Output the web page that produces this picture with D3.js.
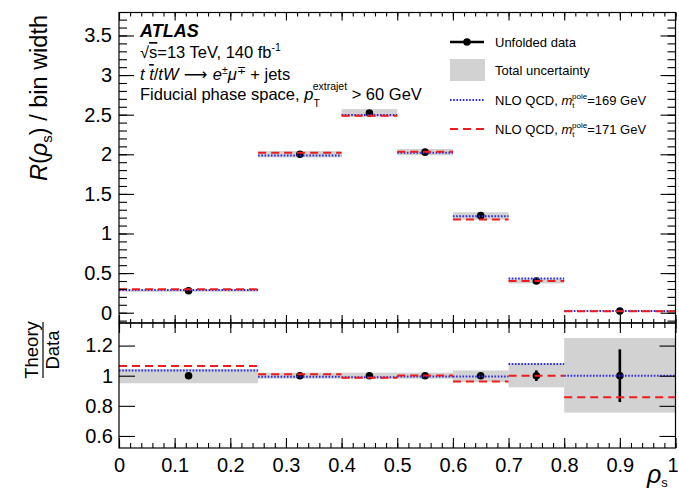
<!DOCTYPE html>
<html>
<head>
<meta charset="utf-8">
<script src="https://cdn.jsdelivr.net/npm/d3@7"></script>
<style>
  body { margin: 0; background: #fff; }
  svg text { font-family: "Liberation Sans", Arial, Helvetica, sans-serif; fill: #000; }
</style>
</head>
<body>
<svg id="chart" width="679" height="490"></svg>
<script>
// bins in rho_s
const binEdges = [0, 0.25, 0.4, 0.5, 0.6, 0.7, 0.8, 1.0];
const binCenters = [0.125, 0.325, 0.45, 0.55, 0.65, 0.75, 0.9];

// unfolded data, R(rho_s) / bin width
const dataValues = [0.278, 2.00, 2.52, 2.027, 1.225, 0.400, 0.020];
// relative uncertainties
const statRel = [0.01, 0.005, 0.005, 0.005, 0.01, 0.035, 0.175];
const totRelUp = [0.045, 0.02, 0.02, 0.02, 0.035, 0.08, 0.25];
const totRelDown = [0.05, 0.02, 0.02, 0.02, 0.042, 0.077, 0.245];

// NLO QCD predictions (upper panel)
const nlo169 = [0.288, 1.986, 2.495, 2.018, 1.219, 0.431, 0.020];
const nlo171 = [0.296, 2.018, 2.485, 2.031, 1.178, 0.400, 0.017];

// Theory / Data (lower panel)
const ratio169 = [1.034, 0.993, 0.990, 0.995, 0.995, 1.077, 1.0];
const ratio171 = [1.064, 1.009, 0.986, 1.002, 0.962, 1.0, 0.857];

// tick labels
const xTicks = [0, 0.1, 0.2, 0.3, 0.4, 0.5, 0.6, 0.7, 0.8, 0.9, 1];
const yTicksTop = [0, 0.5, 1, 1.5, 2, 2.5, 3, 3.5];
const yTicksBottom = [0.6, 0.8, 1, 1.2];

const svg = d3.select("#chart");
const bins = binCenters.map((c, i) => ({ lo: binEdges[i], hi: binEdges[i + 1], c, i }));

const left = 119, right = 675.5;
const x = d3.scaleLinear().domain([0, 1]).range([left, right]);
const yTop = d3.scaleLinear().domain([-0.13, 3.79]).range([323, 12.5]);
const yBot = d3.scaleLinear().domain([0.52, 1.35]).range([448, 323]);

const BLUE = "#2b2bea", RED = "#ee1c1c", BAND = "#d2d2d2";
const xMinor = d3.range(0, 1.0001, 0.02);

function drawPanel(g, y, vals, up, down, errs, th1, th2) {
  // uncertainty band
  g.selectAll("rect.band").data(bins).join("rect")
    .attr("x", d => x(d.lo)).attr("width", d => x(d.hi) - x(d.lo))
    .attr("y", d => y(vals[d.i] * (1 + up[d.i])))
    .attr("height", d => y(vals[d.i] * (1 - down[d.i])) - y(vals[d.i] * (1 + up[d.i])))
    .attr("fill", BAND);
  // data error bars and points
  g.selectAll("line.err").data(bins).join("line")
    .attr("x1", d => x(d.c)).attr("x2", d => x(d.c))
    .attr("y1", d => y(vals[d.i] * (1 + errs[d.i])))
    .attr("y2", d => y(vals[d.i] * (1 - errs[d.i])))
    .attr("stroke", "#000").attr("stroke-width", 2.6);
  g.selectAll("circle.pt").data(bins).join("circle")
    .attr("cx", d => x(d.c)).attr("cy", d => y(vals[d.i]))
    .attr("r", 3.8).attr("fill", "#000");
  // theory lines
  g.selectAll("line.t169").data(bins).join("line")
    .attr("x1", d => x(d.lo)).attr("x2", d => x(d.hi))
    .attr("y1", d => y(th1[d.i])).attr("y2", d => y(th1[d.i]))
    .attr("stroke", BLUE).attr("stroke-width", 2).attr("stroke-dasharray", "1.6,1.6");
  g.selectAll("line.t171").data(bins).join("line")
    .attr("x1", d => x(d.lo)).attr("x2", d => x(d.hi))
    .attr("y1", d => y(th2[d.i])).attr("y2", d => y(th2[d.i]))
    .attr("stroke", RED).attr("stroke-width", 2).attr("stroke-dasharray", "8,5");
}

// upper panel
const gTop = svg.append("g");
drawPanel(gTop.append("g"), yTop, dataValues, totRelUp, totRelDown, statRel, nlo169, nlo171);

// lower panel, data normalised to 1
const ones = dataValues.map(() => 1);
const gBot = svg.append("g");
drawPanel(gBot.append("g"), yBot, ones, totRelUp, totRelDown, statRel, ratio169, ratio171);

// axes helper
function ticks(axis, pos, vals, size, fmt) {
  const a = svg.append("g").attr("transform", pos)
    .call(axis.tickValues(vals).tickSize(-size).tickSizeOuter(0).tickPadding(6)
      .tickFormat(fmt || ""));
  a.select(".domain").remove();
  a.selectAll("line").attr("stroke", "#000").attr("stroke-width", 1.1);
  a.selectAll("text").attr("font-size", 20).attr("font-family", null);
  return a;
}

// upper panel axes
ticks(d3.axisLeft(yTop), `translate(${left},0)`, yTicksTop, 15, d => d).selectAll("text").attr("dx", -1);
ticks(d3.axisLeft(yTop), `translate(${left},0)`, d3.range(-0.1, 3.75, 0.1), 8);
ticks(d3.axisRight(yTop), `translate(${right},0)`, yTicksTop, 15);
ticks(d3.axisRight(yTop), `translate(${right},0)`, d3.range(-0.1, 3.75, 0.1), 8);
ticks(d3.axisTop(x), `translate(0,12.5)`, xTicks, 8);
ticks(d3.axisTop(x), `translate(0,12.5)`, xMinor, 4);
ticks(d3.axisBottom(x), `translate(0,323)`, xTicks, 8);
ticks(d3.axisBottom(x), `translate(0,323)`, xMinor, 4);

// lower panel axes
ticks(d3.axisLeft(yBot), `translate(${left},0)`, yTicksBottom, 16, d => d);
ticks(d3.axisRight(yBot), `translate(${right},0)`, yTicksBottom, 16);
ticks(d3.axisTop(x), `translate(0,323)`, xTicks, 10);
ticks(d3.axisTop(x), `translate(0,323)`, xMinor, 5);
const xAx = ticks(d3.axisBottom(x), `translate(0,448)`, xTicks, 10, d => d);
xAx.selectAll("text").attr("dy", "0.9em").attr("dx", d => d === 1 ? -3 : 0);
ticks(d3.axisBottom(x), `translate(0,448)`, xMinor, 5);

// frames
svg.append("rect").attr("x", left).attr("y", 12.5).attr("width", right - left).attr("height", 310.5)
  .attr("fill", "none").attr("stroke", "#000").attr("stroke-width", 1.2);
svg.append("rect").attr("x", left).attr("y", 323).attr("width", right - left).attr("height", 125)
  .attr("fill", "none").attr("stroke", "#000").attr("stroke-width", 1.2);

// axis titles
const yt = svg.append("text").attr("transform", "translate(47,15) rotate(-90)")
  .attr("text-anchor", "end").attr("font-size", 23.5);
yt.append("tspan").attr("font-style", "italic").text("R");
yt.append("tspan").text("(");
yt.append("tspan").attr("font-style", "italic").text("ρ");
yt.append("tspan").attr("font-size", 15).attr("dy", 5).text("s");
yt.append("tspan").attr("dy", -5).text(") / bin width");

const ratioT = svg.append("g").attr("transform", "translate(43,350) rotate(-90)");
ratioT.append("text").attr("text-anchor", "middle").attr("y", -5).attr("font-size", 18.5).text("Theory");
ratioT.append("line").attr("x1", -28).attr("x2", 28).attr("stroke", "#000").attr("stroke-width", 1.2);
ratioT.append("text").attr("text-anchor", "middle").attr("y", 16).attr("font-size", 18.5).text("Data");

const xt = svg.append("text").attr("x", 647).attr("y", 483).attr("font-size", 25);
xt.append("tspan").attr("font-style", "italic").text("ρ");
xt.append("tspan").attr("font-size", 13).attr("dy", 4).text("s");

// ATLAS labels
svg.append("text").attr("x", 140).attr("y", 37).attr("font-size", 18)
  .attr("font-weight", "bold").attr("font-style", "italic").text("ATLAS");
const l1 = svg.append("text").attr("x", 140).attr("y", 58).attr("font-size", 16.5);
l1.append("tspan").text("√");
l1.append("tspan").attr("text-decoration", "overline").text("s");
l1.append("tspan").text("=13 TeV, 140 fb");
l1.append("tspan").attr("font-size", 10.5).attr("dy", -7).text("-1");
const l2 = svg.append("text").attr("x", 140).attr("y", 80).attr("font-size", 16.5);
l2.append("tspan").attr("font-style", "italic").text("t ");
l2.append("tspan").attr("font-style", "italic").attr("text-decoration", "overline").text("t");
l2.append("tspan").text("/");
l2.append("tspan").attr("font-style", "italic").text("tW");
l2.append("tspan").attr("font-family", "DejaVu Sans").text(" ⟶ ");
l2.append("tspan").attr("font-style", "italic").text("e");
l2.append("tspan").attr("font-size", 10.5).attr("dy", -6).text("±");
l2.append("tspan").attr("font-style", "italic").attr("dy", 6).text("μ");
l2.append("tspan").attr("font-size", 10.5).attr("dy", -6).text("∓");
l2.append("tspan").attr("dy", 6).text(" + jets");
const l3 = svg.append("text").attr("x", 140).attr("y", 100).attr("font-size", 16.5);
l3.append("tspan").text("Fiducial phase space, ");
l3.append("tspan").attr("font-style", "italic").text("p");
l3.append("tspan").attr("font-size", 10.5).attr("dy", 7).text("T");
l3.append("tspan").attr("font-size", 10.5).attr("dx", -6).attr("dy", -17).text("extrajet");
l3.append("tspan").attr("dy", 10).text(" > 60 GeV");

// legend
const lg = svg.append("g");
const rowY = [42, 70, 100, 129];
lg.append("line").attr("x1", 450).attr("x2", 484).attr("y1", rowY[0]).attr("y2", rowY[0])
  .attr("stroke", "#000").attr("stroke-width", 2.6);
lg.append("circle").attr("cx", 467).attr("cy", rowY[0]).attr("r", 3.8).attr("fill", "#000");
lg.append("rect").attr("x", 450).attr("y", rowY[1] - 11).attr("width", 35).attr("height", 22).attr("fill", BAND);
lg.append("line").attr("x1", 450).attr("x2", 485).attr("y1", rowY[2]).attr("y2", rowY[2])
  .attr("stroke", BLUE).attr("stroke-width", 2).attr("stroke-dasharray", "1.6,1.6");
lg.append("line").attr("x1", 450).attr("x2", 485).attr("y1", rowY[3]).attr("y2", rowY[3])
  .attr("stroke", RED).attr("stroke-width", 2).attr("stroke-dasharray", "8,5");

const legText = (yy) => lg.append("text").attr("x", 495).attr("y", yy + 5).attr("font-size", 13);
legText(rowY[0]).text("Unfolded data");
legText(rowY[1]).text("Total uncertainty");
[["169", rowY[2]], ["171", rowY[3]]].forEach(([m, yy]) => {
  const t = legText(yy);
  t.append("tspan").text("NLO QCD, ");
  t.append("tspan").attr("font-style", "italic").text("m");
  t.append("tspan").attr("font-size", 8).attr("dy", 3).text("t");
  t.append("tspan").attr("font-size", 8).attr("dx", -2.5).attr("dy", -9).text("pole");
  t.append("tspan").attr("dy", 6).text("=" + m + " GeV");
});
</script>
</body>
</html>
